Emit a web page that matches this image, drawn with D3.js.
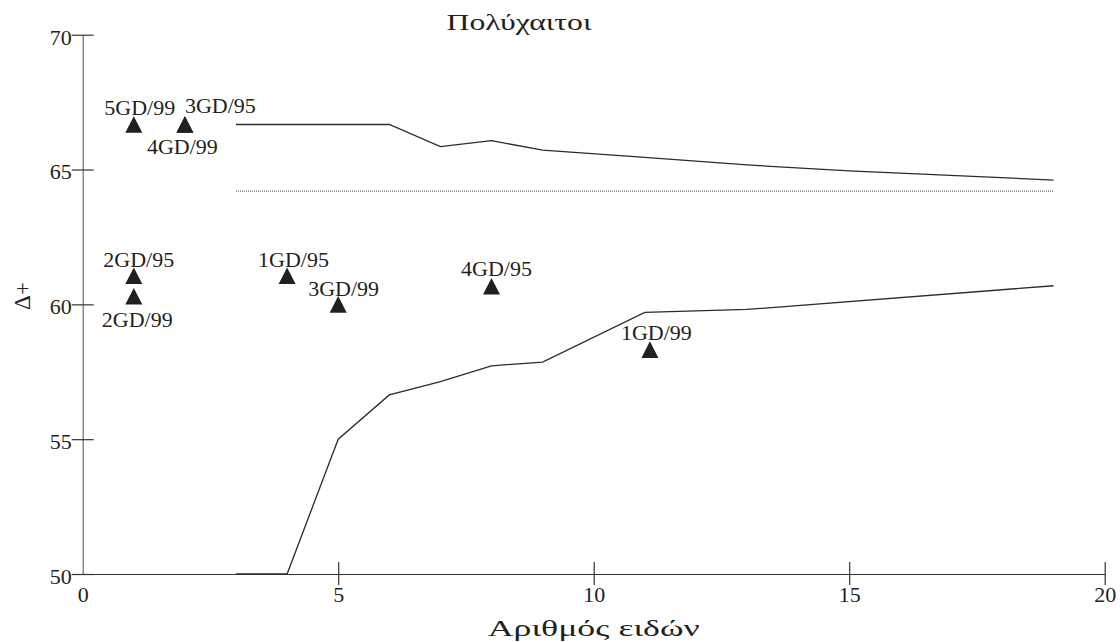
<!DOCTYPE html>
<html>
<head>
<meta charset="utf-8">
<script src="https://cdn.jsdelivr.net/npm/d3@7"></script>
<style>
  html, body { margin: 0; padding: 0; background: #fff; }
  svg { display: block; }
  text { font-family: "Liberation Serif", "Times New Roman", serif; fill: #231f20; }
</style>
</head>
<body>
<svg id="chart" width="1120" height="642"></svg>
<script>
// Upper 95% limit of Δ+ against number of species
const upperX = [3, 4, 5, 6, 7, 8, 9, 11, 13, 15, 19];
const upperY = [66.67, 66.67, 66.67, 66.67, 65.85, 66.07, 65.72, 65.45, 65.17, 64.95, 64.61];

// Lower 95% limit
const lowerX = [3, 4, 5, 6, 7, 8, 9, 11, 13, 19];
const lowerY = [50, 50, 55, 56.64, 57.13, 57.72, 57.86, 59.70, 59.81, 60.69];

// Expected (mean) Δ+
const meanX = [3, 19];
const meanY = [64.2, 64.2];

// Sampling stations
const stationLabels = ["5GD/99", "3GD/95", "4GD/99", "2GD/95", "2GD/99", "1GD/95", "3GD/99", "4GD/95", "1GD/99"];
const stationX = [1, 2, 2, 1, 1, 4, 5, 8, 11.1];
const stationY = [66.67, 66.67, 66.67, 61.06, 60.30, 61.06, 60.0, 60.67, 58.32];

// Axis ticks
const xTicks = [0, 5, 10, 15, 20];
const yTicks = [50, 55, 60, 65, 70];

const titleText = "Πολύχαιτοι";
const xTitle = "Αριθμός ειδών";
const yTitle = "Δ+";

// Label placement relative to each marker (pixels)
const labelOffsets = [[-29.5, -9], [0, -11.4], [-38, 30], [-30.5, -9], [-32, 30.4], [-29, -9], [-30, -8], [-30.5, -9.8], [-29, -9.4]];

const FONT = 22;
const svg = d3.select("#chart");

const x = d3.scaleLinear().domain([0, 20]).range([82.7, 1104.7]);
const y = d3.scaleLinear().domain([50, 70]).range([574, 34.7]);

// Y axis
const yAxis = svg.append("g")
  .attr("transform", `translate(${x(0)},0)`)
  .call(d3.axisLeft(y).tickValues(yTicks).tickFormat(d3.format("d")).tickSizeInner(11).tickSizeOuter(0).tickPadding(0));
yAxis.select(".domain").attr("stroke", "#6a6a6a").attr("stroke-width", 1.2);
yAxis.selectAll(".tick line").attr("x1", -11).attr("x2", 11).attr("stroke", "#333").attr("stroke-width", 1.2);
yAxis.selectAll(".tick text").attr("dy", "0.43em").style("font-size", FONT + "px").attr("fill", "#231f20");
yAxis.attr("font-family", null).attr("font-size", null);

// X axis
const xAxis = svg.append("g")
  .attr("transform", `translate(0,${y(50)})`)
  .call(d3.axisBottom(x).tickValues(xTicks).tickFormat(d3.format("d")).tickSizeInner(11).tickSizeOuter(0).tickPadding(1));
xAxis.select(".domain").attr("stroke", "#333").attr("stroke-width", 1.2);
xAxis.selectAll(".tick line").attr("y1", -12).attr("y2", 11).attr("stroke", "#333").attr("stroke-width", 1.2);
xAxis.selectAll(".tick text").style("font-size", FONT + "px").attr("fill", "#231f20");
xAxis.selectAll(".tick").filter(d => d === 0).select("line").remove();
xAxis.attr("font-family", null).attr("font-size", null);

// Limit curves
const line = d3.line().x(d => x(d[0])).y(d => y(d[1]));
const upper = upperX.map((v, i) => [v, upperY[i]]);
const lower = lowerX.map((v, i) => [v, lowerY[i]]);
const mean = meanX.map((v, i) => [v, meanY[i]]);

svg.append("path").datum(upper).attr("d", line)
  .attr("fill", "none").attr("stroke", "#2b2b2b").attr("stroke-width", 1.3);
svg.append("path").datum(lower).attr("d", line)
  .attr("fill", "none").attr("stroke", "#2b2b2b").attr("stroke-width", 1.3);
svg.append("path").datum(mean).attr("d", line)
  .attr("fill", "none").attr("stroke", "#444").attr("stroke-width", 1)
  .attr("stroke-dasharray", "1,1");

// Station markers (filled triangles)
const tri = "M0,-8.3L8.5,8.3L-8.5,8.3Z";
const stations = stationLabels.map((l, i) => ({ label: l, x: stationX[i], y: stationY[i], off: labelOffsets[i] }));

svg.append("g").selectAll("path").data(stations).join("path")
  .attr("d", tri)
  .attr("transform", d => `translate(${x(d.x)},${y(d.y)})`)
  .attr("fill", "#231f20");

svg.append("g").selectAll("text").data(stations).join("text")
  .attr("x", d => x(d.x) + d.off[0])
  .attr("y", d => y(d.y) + d.off[1])
  .style("font-size", FONT + "px")
  .text(d => d.label);

// Titles (Greek set in a wider face)
svg.append("text").attr("x", 519).attr("y", 30).attr("text-anchor", "middle")
  .attr("textLength", 145).attr("lengthAdjust", "spacingAndGlyphs")
  .style("font-size", "23.5px").text(titleText);
svg.append("text").attr("x", (x(0) + x(20)) / 2).attr("y", 636).attr("text-anchor", "middle")
  .attr("textLength", 212).attr("lengthAdjust", "spacingAndGlyphs")
  .style("font-size", "23.5px").text(xTitle);
svg.append("text").attr("transform", "translate(30,296) rotate(-90)").attr("text-anchor", "middle")
  .style("font-size", "23px").text(yTitle);
</script>
</body>
</html>
